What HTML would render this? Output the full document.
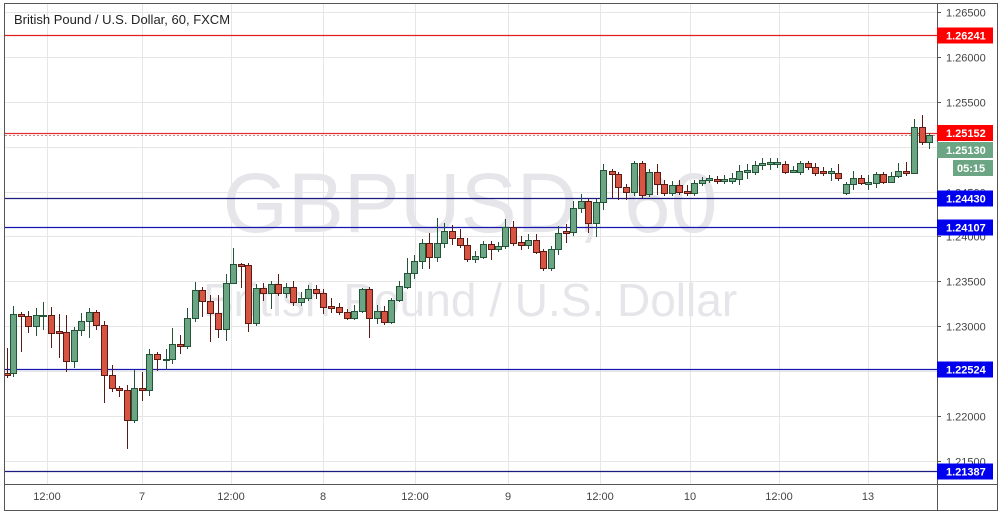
<!DOCTYPE html>
<html><head><meta charset="utf-8"><style>
html,body{margin:0;padding:0;background:#fff;}
svg{display:block;font-family:"Liberation Sans",sans-serif;}
</style></head><body>
<svg id="c" width="1004" height="516" viewBox="0 0 1004 516" xmlns="http://www.w3.org/2000/svg">
<rect x="0" y="0" width="1004" height="516" fill="#fff"/>
<g id="grid" stroke="#e6e6e6" stroke-width="1"></g>
<text x="470" y="232" font-size="84" fill="#e6e6ea" text-anchor="middle">GBPUSD, 60</text>
<text x="470" y="316" font-size="46" fill="#e6e6ea" text-anchor="middle">British Pound / U.S. Dollar</text>
<g id="lines"></g>
<g id="candles"></g>
<rect x="4.5" y="3.5" width="993" height="507" fill="none" stroke="#555" stroke-width="1"/>
<line x1="937.5" y1="3" x2="937.5" y2="511" stroke="#555"/>
<line x1="4" y1="484.5" x2="998" y2="484.5" stroke="#555"/>
<text x="14" y="24" font-size="13" fill="#222">British Pound / U.S. Dollar, 60, FXCM</text>
<g id="axis" font-size="11" fill="#444"></g>
<g id="labels" font-size="11" font-weight="bold" fill="#fff"></g>
</svg>
<script>
var ns="http://www.w3.org/2000/svg";
function el(p,t,a,txt){var e=document.createElementNS(ns,t);for(var k in a)e.setAttribute(k,a[k]);if(txt!=null)e.textContent=txt;p.appendChild(e);return e;}
var G=document.getElementById('grid'),A=document.getElementById('axis'),L=document.getElementById('lines'),C=document.getElementById('candles'),B=document.getElementById('labels');
function Y(v){return 35+(1.26241-v)*8990;}
var ticks=[1.265,1.26,1.255,1.25,1.245,1.24,1.235,1.23,1.225,1.22,1.215];
ticks.forEach(function(v){var y=Math.round(Y(v))+0.5;el(G,'line',{x1:5,x2:937,y1:y,y2:y});el(A,'line',{x1:937,x2:941,y1:y,y2:y,stroke:'#555'});el(A,'text',{x:946,y:y+4},v.toFixed(5));});
var xt=[[47,'12:00'],[142,'7'],[231,'12:00'],[323,'8'],[415,'12:00'],[508,'9'],[600,'12:00'],[690,'10'],[779,'12:00'],[868,'13']];
xt.forEach(function(t){el(G,'line',{x1:t[0]+.5,x2:t[0]+.5,y1:4,y2:484});el(A,'text',{x:t[0],y:500,'text-anchor':'middle'},t[1]);});
var hl=[[1.26241,'#e02020','#f00'],[1.24430,'#1c1c80','#0000ee'],[1.24107,'#1515b0','#0000ee'],[1.22524,'#1515b0','#0000ee'],[1.21387,'#1c1c80','#0000ee']];
hl.forEach(function(h){var y=Math.round(Y(h[0]))+0.5;el(L,'line',{x1:5,x2:937,y1:y,y2:y,stroke:h[1],'stroke-width':1.3});el(B,'rect',{x:937,y:y-8,width:56,height:16,fill:h[2]});el(B,'text',{x:946,y:y+4},h[0].toFixed(5));});
el(L,'line',{x1:5,x2:937,y1:133.5,y2:133.5,stroke:'#e03030','stroke-width':1.2});
el(L,'line',{x1:5,x2:937,y1:135.5,y2:135.5,stroke:'#c88','stroke-width':1,'stroke-dasharray':'2,2'});
el(B,'rect',{x:937,y:125,width:56,height:16,fill:'#f00'});el(B,'text',{x:946,y:137},'1.25152');
el(B,'rect',{x:937,y:142,width:56,height:16,fill:'#6ba583'});el(B,'text',{x:946,y:154},'1.25130');
el(B,'rect',{x:953,y:160,width:40,height:16,fill:'#6ba583'});el(B,'text',{x:957,y:172},'05:15');
var d=[[7,373,375,'r',348,378],[13,314,373,'g',306,377],[21,314,316,'r',312,352],[28,316,326,'r',311,333],[36,315,326,'g',308,336],[43,315,316,'g',302,330],[51,315,333,'r',307,348],[59,331,333,'r',314,358],[66,332,361,'r',315,372],[74,330,361,'g',327,368],[81,321,330,'g',313,336],[89,312,321,'g',308,338],[96,312,325,'r',310,330],[104,325,375,'r',321,403],[112,375,388,'r',365,392],[119,388,390,'r',386,397],[127,390,420,'r',385,449],[134,388,420,'g',370,423],[142,388,390,'r',372,401],[149,354,390,'g',349,396],[157,354,359,'r',352,371],[166,359,360,'g',349,370],[172,344,359,'g',328,364],[180,344,346,'r',335,354],[187,318,346,'g',308,349],[195,290,318,'g',282,322],[202,290,301,'r',287,317],[210,301,313,'r',295,342],[218,313,329,'r',295,338],[226,283,329,'g',274,341],[233,264,283,'g',248,284],[241,264,266,'r',263,288],[248,265,323,'r',263,332],[256,288,323,'g',284,326],[263,288,293,'r',283,301],[271,284,293,'g',281,309],[278,284,293,'r',274,296],[286,287,293,'g',283,298],[293,287,302,'r',281,306],[301,298,302,'g',292,306],[308,289,298,'g',285,301],[316,289,293,'r',285,299],[323,293,307,'r',289,314],[331,306,308,'r',298,313],[339,307,312,'r',303,315],[347,312,318,'r',309,320],[354,311,318,'g',305,320],[362,289,311,'g',288,313],[369,289,318,'r',287,338],[377,311,318,'g',305,324],[384,311,322,'r',306,325],[391,300,322,'g',298,324],[399,286,300,'g',281,302],[407,273,287,'g',258,289],[414,261,273,'g',255,279],[422,243,261,'g',239,269],[429,243,257,'r',233,269],[437,243,257,'g',218,262],[444,231,243,'g',223,248],[452,231,238,'r',225,245],[460,238,245,'r',229,248],[467,245,259,'r',238,262],[475,256,259,'g',251,263],[483,244,257,'g',241,259],[491,244,249,'r',241,260],[498,246,249,'g',242,252],[505,227,246,'g',219,249],[513,227,243,'r',221,246],[521,242,245,'r',236,250],[528,240,245,'g',234,249],[536,240,252,'r',234,254],[543,251,268,'r',249,271],[551,249,268,'g',246,271],[558,233,249,'g',226,255],[566,231,233,'r',224,243],[573,208,232,'g',201,236],[581,201,208,'g',194,213],[588,201,223,'r',199,233],[596,202,223,'g',199,237],[603,170,202,'g',164,210],[612,171,174,'r',169,198],[618,174,187,'r',172,200],[626,187,192,'r',184,200],[634,163,192,'g',161,196],[642,163,195,'r',161,198],[649,172,194,'g',169,197],[657,172,184,'r',164,195],[664,184,193,'r',180,196],[672,185,193,'g',181,196],[679,185,192,'r',180,195],[687,191,193,'r',185,196],[694,183,193,'g',180,196],[702,180,183,'g',177,186],[709,178,180,'g',175,183],[717,179,181,'r',176,184],[724,179,181,'g',175,184],[732,178,181,'g',173,184],[739,171,179,'g',165,185],[747,170,172,'g',164,179],[755,165,172,'g',161,175],[762,163,165,'g',158,170],[770,162,164,'g',158,170],[777,162,164,'g',158,168],[785,164,172,'r',161,174],[793,170,172,'g',166,173],[800,163,172,'g',161,175],[808,163,167,'r',161,170],[815,167,173,'r',163,176],[823,171,173,'r',167,176],[831,171,173,'g',168,181],[838,173,178,'r',164,181],[846,184,193,'g',182,195],[853,178,184,'g',171,190],[861,178,183,'r',175,185],[868,182,184,'g',175,190],[876,174,183,'g',172,188],[883,174,182,'r',172,184],[891,176,182,'g',172,183],[898,171,176,'g',163,178],[906,171,173,'r',162,176],[914,127,173,'g',119,174],[922,127,142,'r',115,145],[929,135,142,'g',133,149]];
d.forEach(function(c){var x=c[0]+.5,fill=c[3]=='g'?'#6ba583':'#d75442',st=c[3]=='g'?'#225437':'#5b1a13';
el(C,'line',{x1:x,x2:x,y1:c[4],y2:c[5],stroke:st,'stroke-width':1});
var h=Math.max(1,c[2]-c[1]);el(C,'rect',{x:c[0]-2.5,y:c[1]+.5,width:6,height:h,fill:fill,stroke:st,'stroke-width':1});});
</script>
</body></html>
